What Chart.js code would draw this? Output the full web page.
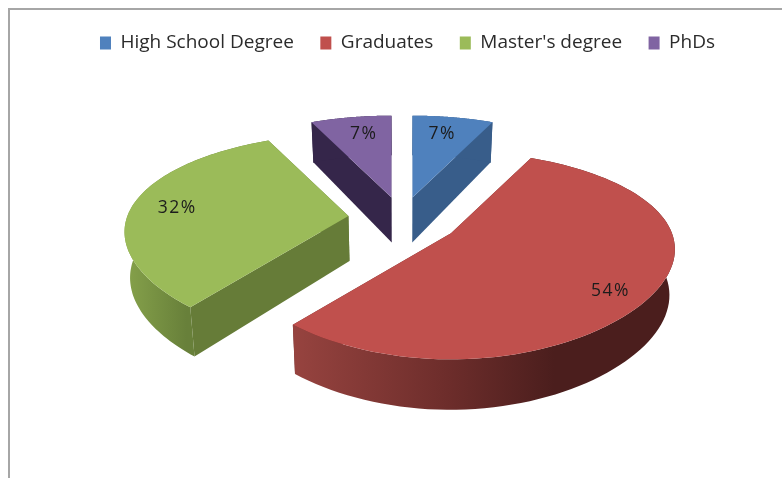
<!DOCTYPE html>
<html>
<head>
<meta charset="utf-8">
<title>Education levels</title>
<script src="https://cdn.jsdelivr.net/npm/chart.js@4"></script>
<style>
    html, body { margin: 0; padding: 0; background: #fff; }
    canvas { display: block; filter: blur(0.35px); }
</style>
</head>
<body>
<canvas id="pie01" width="782" height="478"></canvas>
<script>
const categories = ['High School Degree', 'Graduates', "Master's degree", 'PhDs'];
const shares = [7, 54, 32, 7];
const explode = [48, 58, 54, 48];
const topColors = ['#4f81bd', '#c0504d', '#9bbb59', '#8064a2'];
const sideColors = ['#385d8a', '#6b2c2b', '#667c38', '#35264a'];

// look of the tilted pie, no data in here
const view = {
    cx: 402,
    cy: 219,
    radius: 221,
    tilt: 0.449,
    explodeTilt: 0.46,
    persp: 0.213,
    perspX: 0.166,
    perspXBow: 0.0316,
    depth: 45,
    bottomShrink: 0.98,
};
const labelNudge = [[-3, 2], [4, 12], [-3, 2], [5, 2]];
const labelFont = '17.5px "Open Sans"';

// slice-local perspective: u, v are unit-circle coords, v > 0 is towards the viewer
const project = (apex, u, v) => {
    const s = 1 / (1 - view.persp * v);
    const sx = 1 / (1 - view.perspX * v + view.perspXBow * v * v);
    return {
        x: apex.x + view.radius * u * sx,
        y: apex.y + view.radius * v * view.tilt * s,
    };
};

const lower = (pt, v) => ({
    x: view.cx + (pt.x - view.cx) * view.bottomShrink,
    y: pt.y + view.depth * (1 + 0.12 * v),
});

const trace = (ctx, points) => {
    ctx.beginPath();
    points.forEach((p, i) => (i ? ctx.lineTo(p.x, p.y) : ctx.moveTo(p.x, p.y)));
    ctx.closePath();
};

const rimFill = (ctx, index, rim) => {
    const left = Math.min(...rim.map((p) => p.x));
    if (index === 1) {
        const g = ctx.createLinearGradient(295, 0, 600, 0);
        g.addColorStop(0, '#96433f');
        g.addColorStop(0.5, '#6d2d2b');
        g.addColorStop(0.85, '#4b1e1d');
        g.addColorStop(1, '#4b1e1d');
        return g;
    }
    if (index === 2) {
        const g = ctx.createLinearGradient(left, 0, left + 62, 0);
        g.addColorStop(0, '#86a24b');
        g.addColorStop(1, '#68803a');
        return g;
    }
    return sideColors[index];
};

const drawSlice = (ctx, arc, index) => {
    const offset = arc.options.offset;
    const mid = (arc.startAngle + arc.endAngle) / 2;
    const apex = {
        x: view.cx + offset * Math.cos(mid),
        y: view.cy + offset * Math.sin(mid) * view.explodeTilt,
    };
    const steps = 90;
    const rim = [];
    const rimV = [];
    for (let i = 0; i <= steps; i++) {
        const a = arc.startAngle + (arc.endAngle - arc.startAngle) * i / steps;
        rim.push(project(apex, Math.cos(a), Math.sin(a)));
        rimV.push(Math.sin(a));
    }
    const rimLow = rim.map((p, i) => lower(p, rimV[i]));
    const apexLow = lower(apex, 0);

    // cut faces
    ctx.fillStyle = sideColors[index];
    trace(ctx, [apex, rim[0], rimLow[0], apexLow]);
    ctx.fill();
    trace(ctx, [apex, rim[steps], rimLow[steps], apexLow]);
    ctx.fill();

    // outer wall
    ctx.fillStyle = rimFill(ctx, index, rim);
    trace(ctx, [...rim, ...rimLow.slice().reverse()]);
    ctx.fill();

    // top surface
    ctx.fillStyle = topColors[index];
    trace(ctx, [apex, ...rim]);
    ctx.fill();

    // label
    const f = 0.78;
    const pos = project(apex, Math.cos(mid) * f, Math.sin(mid) * f);
    ctx.save();
    ctx.fillStyle = '#1c1c1c';
    ctx.font = labelFont;
    ctx.letterSpacing = '1.5px';
    ctx.textAlign = 'center';
    ctx.textBaseline = 'middle';
    ctx.fillText(`${shares[index]}%`, pos.x + labelNudge[index][0], pos.y + labelNudge[index][1]);
    ctx.restore();
};

const tiltedPie = {
    id: 'tiltedPie',
    beforeDraw(chart) {
        const { ctx, width, height } = chart;
        ctx.save();
        ctx.strokeStyle = '#a6a6a6';
        ctx.lineWidth = 2;
        ctx.beginPath();
        ctx.moveTo(9, height);
        ctx.lineTo(9, 9);
        ctx.lineTo(width, 9);
        ctx.stroke();
        ctx.restore();
    },
    beforeDatasetDraw(chart, args) {
        const { ctx } = chart;
        const arcs = args.meta.data;
        ctx.save();
        // back to front
        [0, 3, 2, 1].forEach((i) => drawSlice(ctx, arcs[i], i));
        ctx.restore();
        return false;
    },
};

new Chart(document.getElementById('pie01').getContext('2d'), {
    type: 'pie',
    data: {
        labels: categories,
        datasets: [
            {
                data: shares,
                backgroundColor: topColors,
                borderWidth: 0,
                offset: explode,
            },
        ],
    },
    options: {
        responsive: false,
        animation: false,
        layout: {
            padding: { left: 33, top: 7 },
        },
        plugins: {
            legend: {
                position: 'top',
                labels: {
                    boxWidth: 11,
                    boxHeight: 13,
                    padding: 26.5,
                    color: '#2b2b2b',
                    font: { family: 'Open Sans', size: 19 },
                },
            },
            tooltip: { enabled: false },
        },
    },
    plugins: [tiltedPie],
});
</script>
</body>
</html>
